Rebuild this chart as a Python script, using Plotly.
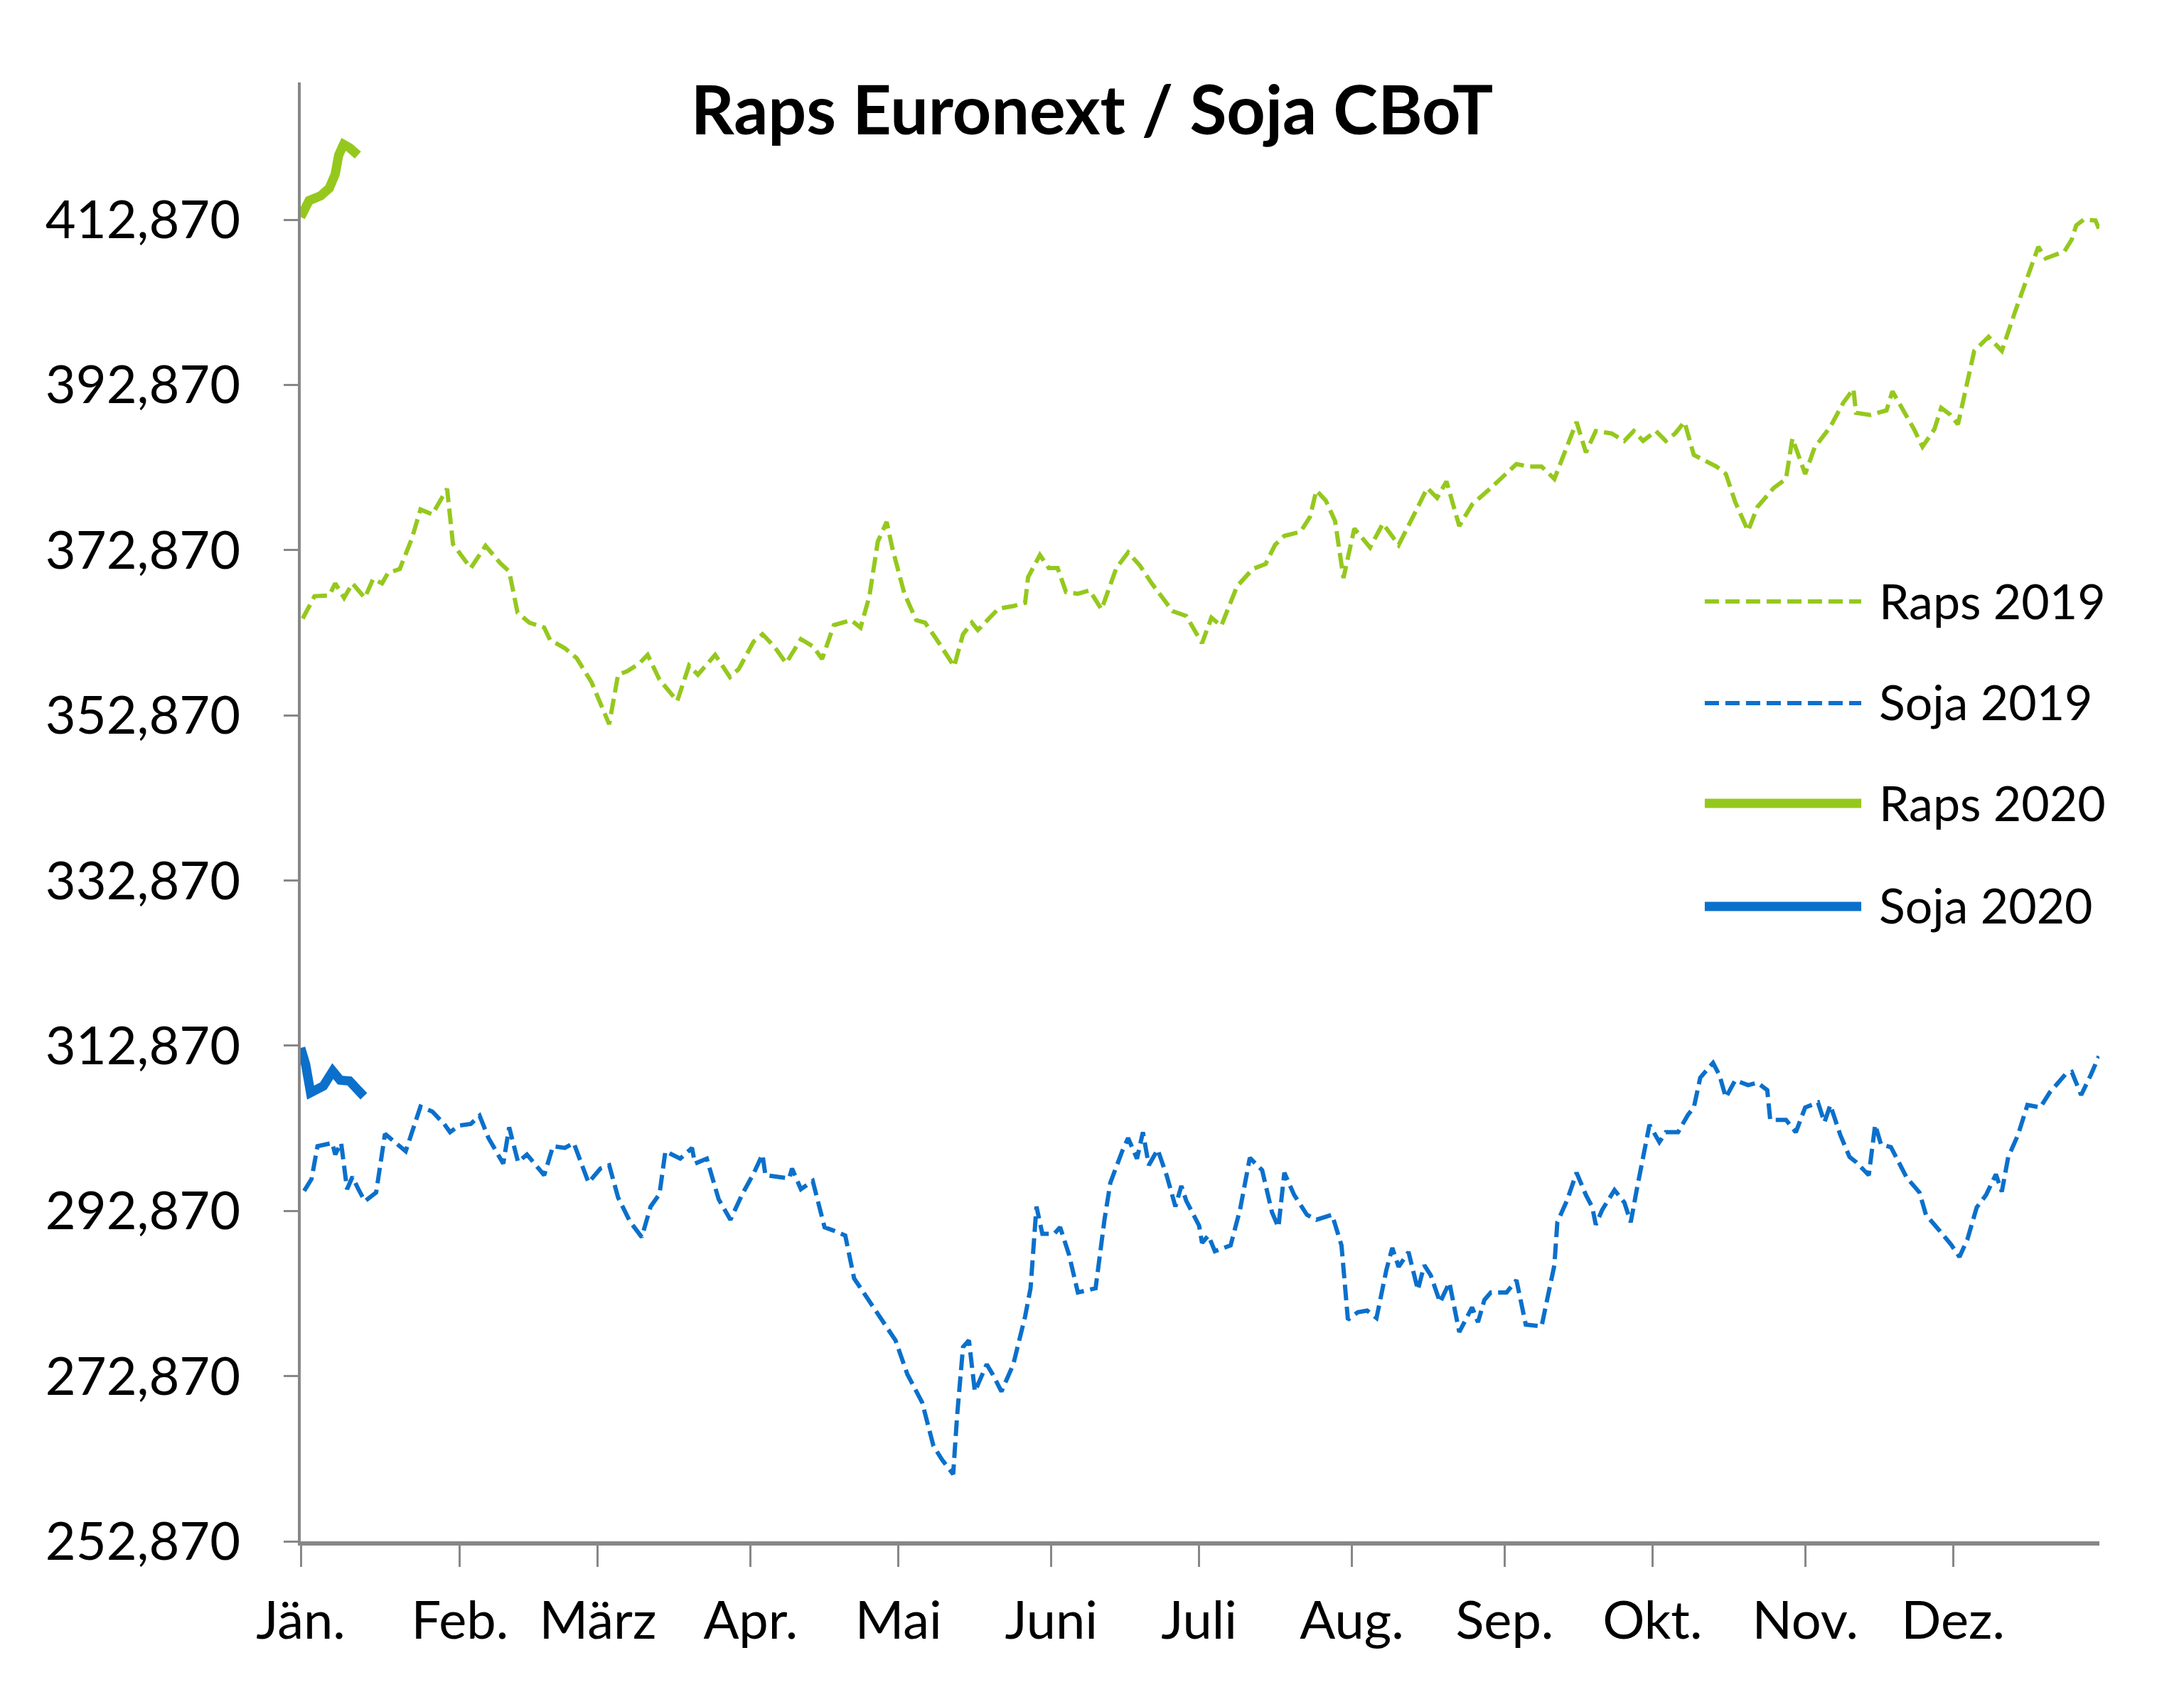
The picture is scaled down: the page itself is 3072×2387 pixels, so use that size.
import pandas as pd
import plotly.graph_objects as go

# ---- data (x = day offset from 1 Jan, y = price) ----
raps19_day = [0.4, 2.8, 5.8, 7.0, 8.8, 10.5, 13.0, 14.7, 16.5, 17.7, 20.1, 22.5, 24.3, 26.7, 29.7, 30.9,
              34.5, 37.5, 40.5, 42.3, 44.0, 46.4, 49.4, 50.6, 53.6, 56.0, 59.0, 62.6, 64.4, 66.2, 68.6,
              70.4, 72.8, 76.4, 78.8, 80.6, 84.1, 87.1, 88.9, 91.9, 93.7, 96.1, 98.5, 101.5, 104.0, 105.8,
              108.2, 110.0, 111.7, 113.6, 115.4, 117.1, 118.9, 120.1, 122.5, 124.9, 126.7, 129.0, 132.6,
              134.4, 136.2, 137.4, 141.6, 144.6, 147.0, 147.6, 150.0, 151.8, 153.6, 155.3, 157.7, 160.1,
              162.5, 165.5, 167.9, 170.3, 172.7, 176.9, 179.7, 182.9, 184.8, 186.8, 190.0, 193.2, 195.8,
              197.7, 199.6, 202.9, 204.8, 206.1, 208.0, 209.9, 211.6, 213.8, 217.0, 219.6, 222.8, 226.7,
              228.6, 230.6, 232.5, 235.1, 237.7, 241.5, 244.1, 246.7, 249.2, 251.8, 254.4, 256.3, 258.9,
              260.8, 262.8, 266.0, 268.6, 270.5, 272.4, 275.0, 277.0, 278.9, 280.8, 282.7, 284.7, 287.3,
              289.2, 291.1, 293.7, 295.6, 298.9, 301.4, 302.7, 305.3, 307.2, 310.4, 313.0, 315.1, 315.6,
              318.5, 321.8, 323.0, 325.2, 327.4, 329.1, 331.5, 332.9, 334.8, 336.3, 337.7, 339.6, 342.5,
              345.2, 347.8, 350.7, 352.6, 354.1, 357.9, 359.4, 360.3, 361.8, 364.2, 364.9]
raps19_val = [364.6, 367.3, 367.4, 368.85, 367.1, 368.85, 367.1, 369.4, 368.85, 370.1, 370.6, 374.2, 377.8,
              377.2, 380.3, 373.6, 370.7, 373.4, 371.3, 370.3, 365.3, 364.1, 363.5, 362.0, 361.0, 359.8,
              356.9, 351.8, 357.8, 358.2, 359.1, 360.2, 357.2, 354.6, 358.9, 357.8, 360.2, 357.5, 358.5,
              361.8, 362.7, 361.2, 359.2, 362.1, 361.2, 359.7, 363.8, 364.1, 364.4, 363.5, 367.3, 373.9,
              376.3, 373.0, 367.6, 364.4, 364.1, 362.1, 358.8, 362.7, 364.1, 363.2, 365.8, 366.1, 366.5,
              369.6, 372.3, 370.7, 370.7, 367.8, 367.6, 368.0, 365.7, 370.7, 372.6, 371.0, 368.85, 365.5,
              364.9, 361.6, 364.7, 363.7, 368.5, 370.6, 371.2, 373.5, 374.6, 375.1, 376.9, 380.1, 378.9,
              376.4, 369.5, 375.5, 373.2, 376.1, 373.5, 378.1, 380.4, 379.2, 381.2, 375.8, 378.4, 380.4,
              381.8, 383.3, 383.0, 383.0, 381.5, 384.4, 388.4, 384.7, 387.3, 387.0, 386.1, 387.3, 386.1,
              387.3, 386.1, 387.0, 388.4, 384.4, 383.8, 383.0, 382.1, 378.7, 375.2, 378.1, 380.4, 381.5,
              386.4, 382.1, 385.3, 387.8, 390.7, 392.4, 389.5, 389.25, 389.8, 392.1, 389.8, 387.5, 385.4,
              387.5, 390.1, 389.25, 388.1, 391.8, 397.0, 398.7, 397.0, 401.6, 406.45, 409.6, 408.2, 409.05,
              410.5, 412.2, 412.9, 412.8, 411.8]

soja19_day = [0.7, 2.2, 3.4, 6.4, 7.0, 8.2, 9.4, 10.5, 11.7, 13.0, 15.3, 17.1, 18.9, 21.3, 24.3, 26.7, 29.1,
              30.3, 32.1, 34.5, 36.3, 38.1, 41.1, 42.3, 44.1, 45.9, 49.4, 51.2, 53.6, 55.4, 58.4, 60.8,
              62.6, 64.4, 66.8, 69.2, 71.0, 72.8, 74.0, 77.0, 79.4, 80.0, 82.4, 84.8, 87.2, 89.6, 91.9,
              93.7, 94.3, 99.1, 99.7, 101.5, 103.9, 106.3, 108.1, 110.5, 112.3, 114.7, 118.3, 120.7, 123.1,
              126.1, 128.4, 130.2, 132.4, 133.2, 134.4, 135.6, 136.8, 139.2, 140.4, 142.2, 144.6, 147.0,
              148.1, 149.3, 150.5, 152.9, 154.1, 155.9, 157.7, 159.5, 161.3, 163.1, 164.3, 166.7, 167.9,
              169.7, 170.9, 172.1, 173.9, 175.7, 177.5, 178.7, 179.7, 182.3, 182.9, 184.2, 185.5, 188.7,
              190.6, 192.6, 195.1, 197.1, 198.4, 199.6, 201.6, 204.2, 206.1, 209.3, 211.2, 212.5, 214.5,
              216.4, 218.3, 220.3, 221.5, 222.8, 224.8, 226.7, 228.0, 229.3, 231.2, 233.1, 235.1, 236.4,
              237.7, 238.9, 240.2, 241.5, 244.7, 246.7, 248.6, 251.8, 253.1, 254.4, 255.0, 257.0, 258.9,
              260.8, 262.1, 262.8, 264.1, 266.6, 268.6, 269.9, 271.1, 273.7, 275.7, 277.0, 279.5, 281.5,
              282.7, 284.0, 286.6, 287.9, 289.2, 291.1, 293.7, 295.6, 297.6, 298.2, 301.4, 303.4, 305.3,
              307.9, 309.2, 310.4, 312.4, 314.3, 315.6, 318.2, 319.5, 320.7, 322.7, 325.9, 328.5, 329.8,
              332.4, 334.9, 336.6, 338.2, 340.1, 342.0, 344.0, 345.2, 346.5, 348.5, 350.4, 353.0, 354.9,
              358.1, 359.4, 361.3, 363.3, 364.9]
soja19_val = [295.3, 296.75, 300.7, 301.1, 299.7, 301.1, 295.5, 297.0, 295.5, 294.05, 295.1, 302.2, 301.3,
              300.1, 305.5, 304.9, 303.4, 302.4, 303.2, 303.4, 304.4, 301.7, 298.6, 303.0, 298.8, 299.7,
              297.2, 300.7, 300.5, 301.1, 296.3, 298.0, 298.4, 294.5, 291.6, 289.7, 293.4, 294.9, 300.1,
              299.2, 300.5, 298.6, 299.2, 294.3, 291.8, 294.9, 297.4, 299.7, 297.2, 296.8, 298.0, 295.5,
              296.5, 290.9, 290.5, 289.9, 284.7, 282.6, 279.3, 277.2, 273.1, 269.7, 264.4, 262.7, 261.0,
              268.1, 276.4, 277.2, 271.0, 274.3, 273.1, 271.0, 274.3, 280.1, 283.5, 293.4, 290.1, 290.1,
              290.9, 287.6, 283.0, 283.3, 283.5, 291.8, 296.3, 300.1, 301.7, 299.2, 302.4, 298.4, 300.3,
              297.2, 293.4, 295.9, 294.1, 291.1, 289.0, 289.9, 288.0, 288.7, 293.0, 299.3, 297.8, 292.7,
              290.9, 297.5, 294.8, 292.4, 291.8, 292.4, 288.7, 279.7, 280.6, 280.8, 279.9, 285.7, 288.4,
              286.1, 287.9, 283.3, 286.3, 285.1, 281.8, 284.2, 278.2, 279.7, 281.2, 279.4, 282.1, 283.0,
              283.0, 284.5, 279.1, 278.9, 282.7, 286.3, 291.5, 294.2, 297.5, 294.8, 293.3, 291.2, 293.0,
              295.4, 293.9, 291.5, 295.4, 303.3, 301.2, 302.4, 302.4, 304.5, 305.4, 309.0, 310.8, 309.3,
              306.6, 308.7, 308.1, 308.4, 307.5, 303.9, 303.9, 302.4, 305.4, 306.0, 303.6, 305.7, 302.1,
              299.4, 298.8, 297.2, 303.3, 300.9, 300.6, 296.9, 295.1, 292.4, 290.6, 288.8, 287.3, 289.4,
              293.3, 294.8, 297.3, 295.2, 299.4, 302.1, 305.7, 305.4, 307.2, 309.4, 309.7, 306.9, 309.4,
              311.6]

raps20_day = [0.0, 1.7, 4.1, 5.8, 7.0, 7.7, 8.7, 9.9, 11.6]
raps20_val = [413.2, 415.2, 415.8, 416.7, 418.4, 420.7, 422.0, 421.6, 420.7]

soja20_day = [0.0, 1.0, 2.0, 4.6, 6.5, 8.0, 9.9, 12.8]
soja20_val = [312.6, 310.6, 307.2, 308.0, 309.8, 308.7, 308.6, 306.75]

month_labels = ["Jän.", "Feb.", "März", "Apr.", "Mai", "Juni", "Juli", "Aug.", "Sep.", "Okt.", "Nov.", "Dez."]
y_ticks = [252.87, 272.87, 292.87, 312.87, 332.87, 352.87, 372.87, 392.87, 412.87]
y_ticktext = ["252,870", "272,870", "292,870", "312,870", "332,870", "352,870", "372,870", "392,870", "412,870"]

series_names = ["Raps 2019", "Soja 2019", "Raps 2020", "Soja 2020"]

GREEN = "#95C81E"
BLUE = "#0B70CB"
AXIS = "#878787"
FONT = "Lato"
DASH = "22px,9px"

base = pd.Timestamp("2019-01-01")


def to_dates(days):
    return [base + pd.Timedelta(days=d) for d in days]


fig = go.Figure()
specs = [
    (raps19_day, raps19_val, series_names[0], GREEN, 6, DASH),
    (soja19_day, soja19_val, series_names[1], BLUE, 6, DASH),
    (raps20_day, raps20_val, series_names[2], GREEN, 13, "solid"),
    (soja20_day, soja20_val, series_names[3], BLUE, 13, "solid"),
]
for d, v, name, col, w, dash in specs:
    fig.add_trace(go.Scatter(x=to_dates(d), y=v, mode="lines", name=name, showlegend=False,
                             line=dict(color=col, width=w, dash=dash, shape="linear")))

# custom legend (long line samples as in the original)
leg_y = [0.6442, 0.5746, 0.5058, 0.4352]
leg_style = [(GREEN, 6, "20px,9px"), (BLUE, 6, "20px,9px"), (GREEN, 13, "solid"), (BLUE, 13, "solid")]
for yy, name, (col, w, dash) in zip(leg_y, series_names, leg_style):
    fig.add_shape(type="line", xref="paper", yref="paper", x0=0.7806, x1=0.8676, y0=yy, y1=yy,
                  line=dict(color=col, width=w, dash=dash))
    fig.add_annotation(xref="paper", yref="paper", x=0.8767, y=yy + 0.001, text=name, showarrow=False,
                       xanchor="left", yanchor="middle", font=dict(family=FONT, size=68, color="black"))

# month tick marks (Jän. sits on the value axis; the others at the start of each month)
month_ticks = [base] + [d + pd.Timedelta(days=1.3)
                        for d in pd.date_range("2019-02-01", periods=11, freq="MS")]

fig.update_layout(
    width=3072, height=2387,
    margin=dict(l=423, r=119, t=116, b=219),
    paper_bgcolor="white", plot_bgcolor="white",
    title=dict(text="Raps Euronext / Soja CBoT", x=0.5, xref="container", y=1 - 156 / 2387,
               yref="container", xanchor="center", yanchor="middle",
               font=dict(family=FONT, size=95, color="black", weight="bold")),
    xaxis=dict(type="date", range=[base, base + pd.Timedelta(days=365)], tickvals=month_ticks,
               ticktext=month_labels, ticks="outside", ticklen=30, tickwidth=3, tickcolor=AXIS,
               showline=True, linewidth=6, linecolor=AXIS, showgrid=False, zeroline=False,
               ticklabelstandoff=12, tickfont=dict(family=FONT, size=74, color="black")),
    yaxis=dict(range=[252.87, 429.5], tickvals=y_ticks, ticktext=y_ticktext, ticks="outside",
               ticklen=20, tickwidth=3, tickcolor=AXIS, showline=True, linewidth=4, linecolor=AXIS,
               showgrid=False, zeroline=False, ticklabelstandoff=46,
               tickfont=dict(family=FONT, size=74, color="black")),
)

fig.write_html("out.html")
